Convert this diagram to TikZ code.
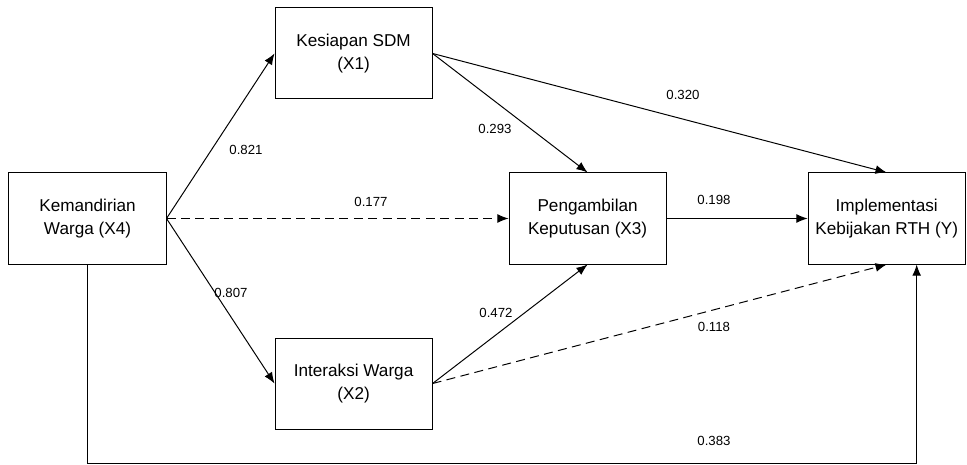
\documentclass[tikz,border=0pt]{standalone}
\usepackage{fontspec}
\setmainfont{Liberation Sans}
\usetikzlibrary{arrows.meta,positioning}

\begin{document}
\begin{tikzpicture}[
  x=0.025cm, y=-0.025cm,
  node distance=18.25mm and 27mm,
  var/.style={draw, line width=0.7pt, minimum width=39.25mm, minimum height=22.75mm, align=center, inner sep=0pt, font=\fontsize{12.2}{16}\selectfont},
  coef/.style={inner sep=1pt, font=\fontsize{9.4}{11}\selectfont},
  arrow/.style={-{Latex[length=2.8mm, width=2.2mm]}, line width=0.7pt},
  weak/.style={arrow, dash pattern=on 2.25mm off 1.35mm}
]
\useasboundingbox (0,0) rectangle (967,465);
\node[var] (x4) at (87.5,218.5) {Kemandirian\\Warga (X4)};
\node[var, above right=of x4] (x1) {Kesiapan SDM\\(X1)};
\node[var, below right=of x4] (x2) {Interaksi Warga\\(X2)};
\node[var, right=85.5mm of x4] (x3) {Pengambilan\\Keputusan (X3)};
\node[var, right=35.25mm of x3] (y) {Implementasi\\Kebijakan RTH (Y)};

\draw[arrow] (x4.east) -- (x1.west);
\draw[arrow] (x4.east) -- (x2.west);
\draw[weak] (x4.east) -- (x3.west);
\draw[arrow] (x1.east) -- (x3.north);
\draw[arrow] (x1.east) -- (y.north);
\draw[arrow] (x3.east) -- (y.west);
\draw[arrow] (x2.east) -- (x3.south);
\draw[weak] (x2.east) -- (y.south);
\draw[arrow] (x4.south) -- ++(0,-49.75mm) -| ([xshift=7.5mm]y.south);

\node[coef] (c41) at (246,150) {0.821};
\node[coef] (c42) at (231,293) {0.807};
\node[coef] (c43) at (371,202) {0.177};
\node[coef] (c13) at (495,129) {0.293};
\node[coef] (c1y) at (683,95) {0.320};
\node[coef] (c3y) at (714,200) {0.198};
\node[coef] (c23) at (496,313) {0.472};
\node[coef] (c2y) at (714,327) {0.118};
\node[coef] (c4y) at (714,441) {0.383};
\end{tikzpicture}
\end{document}
